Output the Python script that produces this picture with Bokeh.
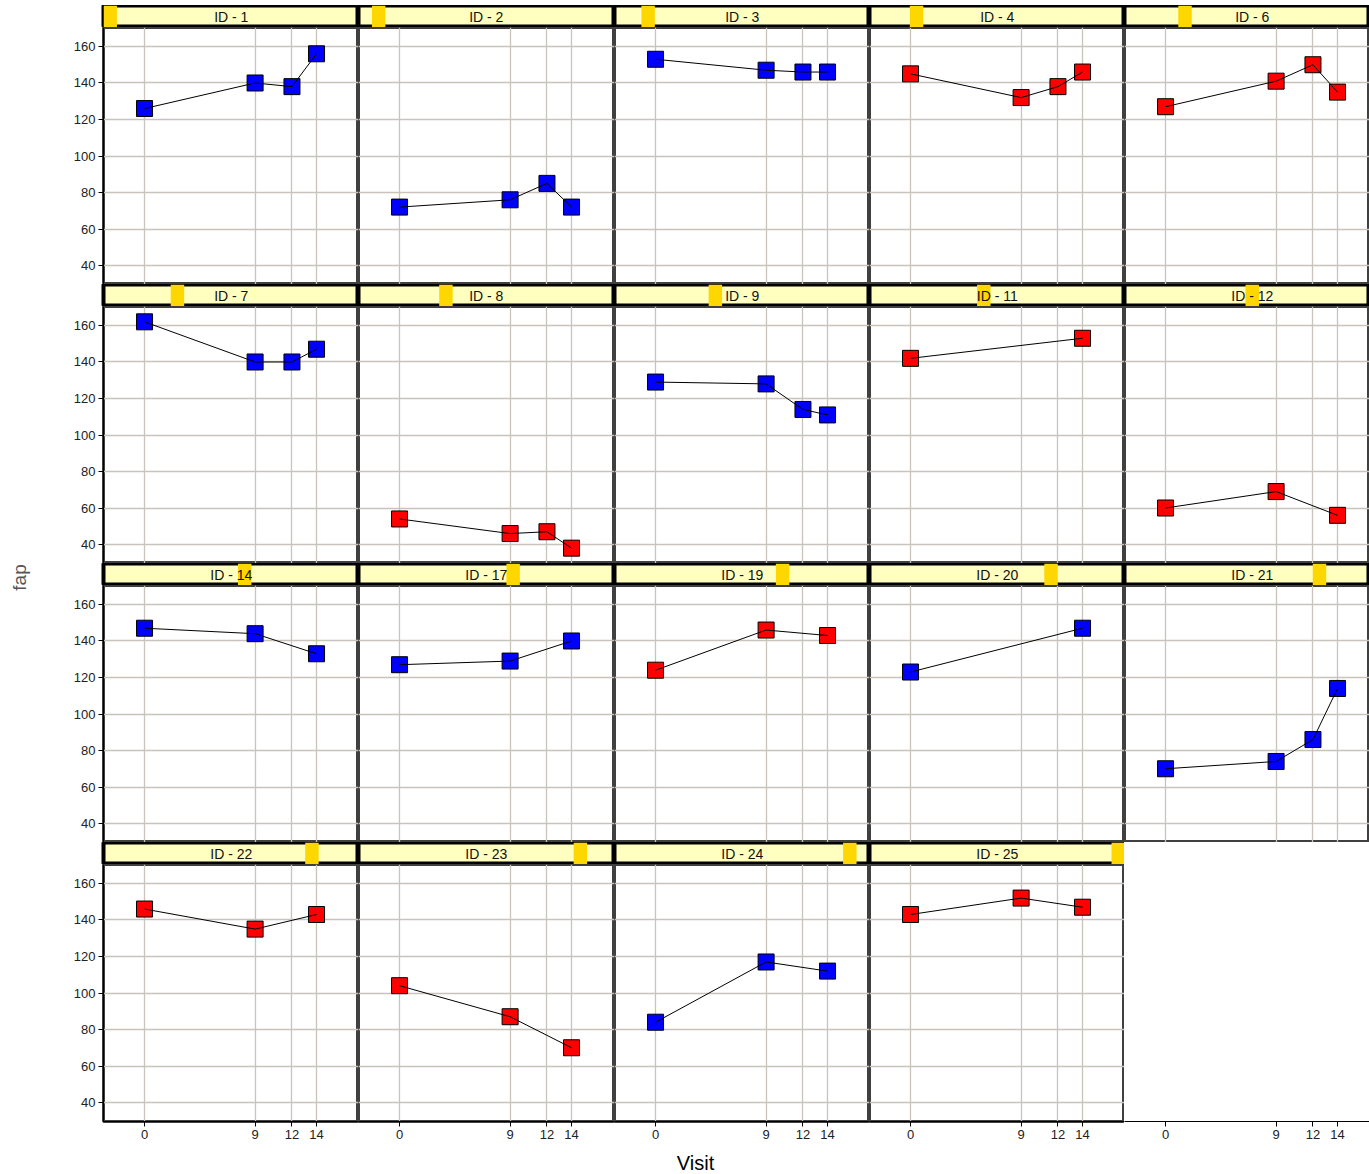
from bokeh.plotting import figure
from bokeh.layouts import row, column, Spacer
from bokeh.models import Range1d, FixedTicker, ColumnDataSource
from bokeh.core.properties import value
from bokeh.embed import file_html
from bokeh.resources import INLINE

# ---------------- data ----------------
ids = [1, 2, 3, 4, 6, 7, 8, 9, 11, 12, 14, 17, 19, 20, 21, 22, 23, 24, 25]
group = ["B", "B", "B", "R", "R", "B", "R", "B", "R", "R",
         "B", "B", "R", "B", "B", "R", "R", "B", "R"]
group_colors = {"B": "#0000FF", "R": "#FF0000"}

subject = [1, 1, 1, 1, 2, 2, 2, 2, 3, 3, 3, 3, 4, 4, 4, 4, 6, 6, 6, 6,
           7, 7, 7, 7, 8, 8, 8, 8, 9, 9, 9, 9, 11, 11, 12, 12, 12,
           14, 14, 14, 17, 17, 17, 19, 19, 19, 20, 20, 21, 21, 21, 21,
           22, 22, 22, 23, 23, 23, 24, 24, 24, 25, 25, 25]
visit = [0, 9, 12, 14, 0, 9, 12, 14, 0, 9, 12, 14, 0, 9, 12, 14, 0, 9, 12, 14,
         0, 9, 12, 14, 0, 9, 12, 14, 0, 9, 12, 14, 0, 14, 0, 9, 14,
         0, 9, 14, 0, 9, 14, 0, 9, 14, 0, 14, 0, 9, 12, 14,
         0, 9, 14, 0, 9, 14, 0, 9, 14, 0, 9, 14]
fap = [126, 140, 138, 156, 72, 76, 85, 72, 153, 147, 146, 146, 145, 132, 138, 146,
       127, 141, 150, 135, 162, 140, 140, 147, 54, 46, 47, 38, 129, 128, 114, 111,
       142, 153, 60, 69, 56, 147, 144, 133, 127, 129, 140, 124, 146, 143, 123, 147,
       70, 74, 86, 114, 146, 135, 143, 104, 87, 70, 84, 117, 112, 143, 152, 147]

x_ticks = [0, 9, 12, 14]
y_ticks = [40, 60, 80, 100, 120, 140, 160]
y_lo, y_hi = 29.6, 170.4
x_lo = -3.34
X_PX_PER_UNIT = 12.286

# ---------------- layout constants ----------------
NCOL, NROW = 5, 4
COL_W = [255, 256, 255, 255, 245]   # last column is cut at the window edge
NOMINAL_W = 255.5
PH = 257                   # panel frame height
SH = 22                    # strip height
LEFT = 40                  # room for y tick labels
BOTTOM = 28                # room for x tick labels
FONT = "Liberation Sans"
GRID_COL = "#c8c4bc"


def style_axis(ax):
    ax.axis_line_color = "black"
    ax.axis_line_width = 1
    ax.major_tick_line_color = "black"
    ax.major_tick_out = 5
    ax.major_tick_in = 0
    ax.minor_tick_line_color = None
    ax.major_label_text_font = FONT
    ax.major_label_text_font_size = "13px"
    ax.major_label_text_color = "#222222"
    ax.major_label_standoff = 3


def make_cell(k, ci, ri):
    fw = COL_W[ci]
    left = LEFT if ci == 0 else 0
    bottom = BOTTOM if ri == NROW - 1 else 0
    xr_hi = x_lo + fw / X_PX_PER_UNIT

    # ---- strip ----
    s = figure(width=fw + left, height=SH, min_border=0, min_border_left=left,
               x_range=Range1d(0, len(ids) * fw / NOMINAL_W), y_range=Range1d(0, 1),
               toolbar_location=None, output_backend="svg")
    s.xaxis.visible = False
    s.yaxis.visible = False
    s.xgrid.visible = False
    s.ygrid.visible = False
    if k < len(ids):
        s.background_fill_color = "#FFFFBF"
        s.outline_line_color = "black"
        s.outline_line_width = 4
        s.quad(left=[k], right=[k + 1], bottom=[0], top=[1],
               fill_color="#FFD700", line_color=None)
        s.text(x=[len(ids) / 2], y=[0.5], text=[f"ID - {ids[k]}"],
               text_align="center", text_baseline="middle",
               text_font=value(FONT), text_font_size="14px", text_color="#111111")
    else:
        s.outline_line_color = None

    # ---- panel ----
    p = figure(width=fw + left, height=PH + bottom, min_border=0,
               min_border_left=left, min_border_bottom=bottom,
               x_range=Range1d(x_lo, xr_hi), y_range=Range1d(y_lo, y_hi),
               toolbar_location=None, output_backend="svg")
    p.xaxis.ticker = FixedTicker(ticks=x_ticks)
    p.yaxis.ticker = FixedTicker(ticks=y_ticks)
    p.xgrid.ticker = FixedTicker(ticks=x_ticks)
    p.ygrid.ticker = FixedTicker(ticks=y_ticks)
    style_axis(p.xaxis[0])
    style_axis(p.yaxis[0])
    p.yaxis.visible = (ci == 0)
    p.xaxis.visible = (ri == NROW - 1)
    if k < len(ids):
        p.outline_line_color = "#404040"
        p.outline_line_width = 3
        for g in (p.xgrid[0], p.ygrid[0]):
            g.grid_line_color = GRID_COL
            g.grid_line_width = 1.3
        sid = ids[k]
        xs = [v for sbj, v in zip(subject, visit) if sbj == sid]
        ys = [f for sbj, f in zip(subject, fap) if sbj == sid]
        src = ColumnDataSource(dict(x=xs, y=ys))
        col = group_colors[group[k]]
        p.scatter("x", "y", source=src, marker="square", size=16,
                  fill_color=col, line_color="black", line_width=1)
        p.line("x", "y", source=src, line_color="black", line_width=1)
    else:
        p.outline_line_color = None
        p.xgrid.visible = False
        p.ygrid.visible = False
    return column(s, p)


rows = []
for ri in range(NROW):
    cells = []
    for ci in range(NCOL):
        k = ri * NCOL + ci
        cells.append(make_cell(k, ci, ri))
    rows.append(row(*cells))
grid = column(*rows)

total_h = NROW * (SH + PH) + BOTTOM

fap_fig = figure(width=57, height=total_h, min_border=0, title="fap",
                 title_location="left", x_range=Range1d(0, 1), y_range=Range1d(0, 1),
                 toolbar_location=None, output_backend="svg")
fap_fig.title.align = "center"
fap_fig.title.text_font = FONT
fap_fig.title.text_font_size = "19px"
fap_fig.title.text_font_style = "normal"
fap_fig.title.text_color = "#555555"
fap_fig.title.standoff = 0
fap_fig.xaxis.visible = False
fap_fig.yaxis.visible = False
fap_fig.xgrid.visible = False
fap_fig.ygrid.visible = False
fap_fig.outline_line_color = None

visit_fig = figure(width=1369, height=24, min_border=0, min_border_left=21,
                   title="Visit", x_range=Range1d(0, 1), y_range=Range1d(0, 1),
                   toolbar_location=None, output_backend="svg")
visit_fig.title.align = "center"
visit_fig.title.text_font = FONT
visit_fig.title.text_font_size = "20px"
visit_fig.title.text_font_style = "normal"
visit_fig.title.text_color = "black"
visit_fig.title.standoff = 0
visit_fig.xaxis.visible = False
visit_fig.yaxis.visible = False
visit_fig.xgrid.visible = False
visit_fig.ygrid.visible = False
visit_fig.outline_line_color = None

page = column(Spacer(width=10, height=5),
              row(Spacer(width=6, height=10), fap_fig, grid),
              visit_fig)

open("out.html", "w").write(file_html(page, INLINE))
